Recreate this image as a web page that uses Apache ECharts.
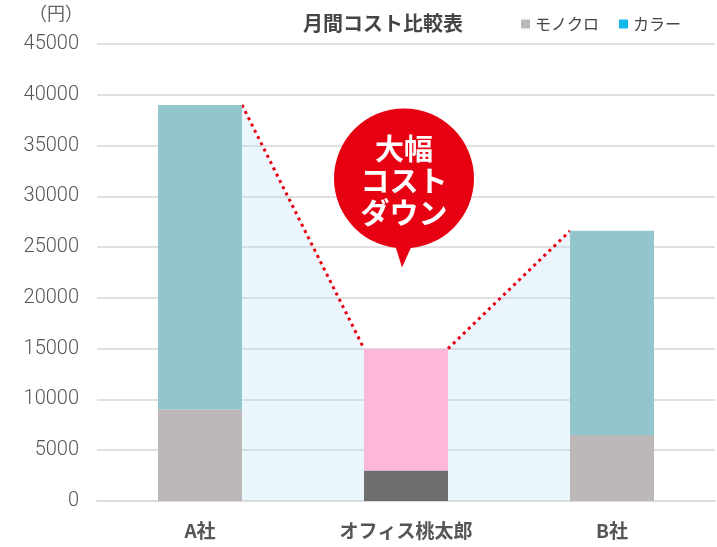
<!DOCTYPE html>
<html>
<head>
<meta charset="utf-8">
<script src="https://cdn.jsdelivr.net/npm/echarts@6/dist/echarts.min.js"></script>
<style>
  html, body { margin: 0; padding: 0; background: #fff; }
  #main { width: 717px; height: 547px; }
</style>
</head>
<body>
<div id="main"></div>
<script>
var categories = ["A社", "オフィス桃太郎", "B社"];
var monoValues = [9000, 3000, 6500];
var colorValues = [30000, 12000, 20100];
var monoColors = ["#BCB8B8", "#6E6E6E", "#BCB8B8"];
var colorColors = ["#93C6CC", "#FDB7D8", "#93C6CC"];
var bubbleLines = ["大幅", "コスト", "ダウン"];

var FONT = "'Noto Sans CJK JP', 'Noto Sans', sans-serif";
var NUM_FONT = "Roboto, 'Noto Sans', sans-serif";
var BAR_W = 84;

var totals = monoValues.map(function (v, i) { return v + colorValues[i]; });
var links = [];
for (var i = 0; i < totals.length - 1; i++) {
  links.push([i, totals[i], i + 1, totals[i + 1]]);
}

var chartDom = document.getElementById("main");
var myChart = echarts.init(chartDom);
var option;

option = {
  animation: false,
  textStyle: { fontFamily: FONT },
  title: {
    text: "月間コスト比較表",
    left: 298,
    top: 8,
    textStyle: { fontSize: 20, fontWeight: "bold", color: "#444", fontFamily: FONT },
  },
  legend: {
    left: 516,
    top: 11,
    icon: "rect",
    itemWidth: 9,
    itemHeight: 9,
    itemGap: 20,
    textStyle: { fontSize: 16, color: "#444", fontFamily: FONT },
    data: [
      { name: "モノクロ", itemStyle: { color: "#BCB8B8" } },
      { name: "カラー", itemStyle: { color: "#12B8EA" } },
    ],
  },
  grid: { left: 97, right: 2, top: 44, bottom: 46 },
  xAxis: {
    type: "category",
    data: categories,
    axisLine: { lineStyle: { color: "#DDDDDD", width: 2 } },
    axisTick: { show: false },
    axisLabel: { fontSize: 19, fontWeight: "bold", color: "#555", margin: 20, fontFamily: FONT },
  },
  yAxis: {
    type: "value",
    min: 0,
    max: 45000,
    interval: 5000,
    name: "（円）",
    nameLocation: "end",
    nameGap: 22,
    nameTextStyle: { fontSize: 18, color: "#666", align: "right", padding: [0, 14, 0, 0], fontFamily: FONT },
    axisLine: { show: false },
    axisTick: { show: false },
    axisLabel: {
      fontSize: 20,
      fontWeight: 300,
      color: "#555",
      margin: 18,
      fontFamily: NUM_FONT,
      formatter: function (v) { return String(v); },
    },
    splitLine: { lineStyle: { color: "#E0E0E0", width: 2 } },
  },
  series: [
    {
      name: "reduce",
      type: "custom",
      z: 1,
      silent: true,
      encode: { x: 0, y: 1 },
      data: links,
      renderItem: function (params, api) {
        var p1 = api.coord([api.value(0), api.value(1)]);
        var p2 = api.coord([api.value(2), api.value(3)]);
        var base = api.coord([0, 0])[1];
        var x1 = p1[0] + BAR_W / 2;
        var x2 = p2[0] - BAR_W / 2;
        return {
          type: "group",
          children: [
            {
              type: "polygon",
              shape: { points: [[x1, p1[1]], [x2, p2[1]], [x2, base], [x1, base]] },
              style: { fill: "rgba(180,220,245,0.28)" },
            },
            {
              type: "polygon",
              shape: { points: [[p2[0] - BAR_W / 2, p2[1]], [p2[0] + BAR_W / 2, p2[1]], [p2[0] + BAR_W / 2, base], [p2[0] - BAR_W / 2, base]] },
              style: { fill: params.dataIndex === 0 ? "rgba(180,220,245,0.28)" : "rgba(0,0,0,0)" },
            },
            {
              type: "line",
              shape: { x1: x1, y1: p1[1], x2: x2, y2: p2[1] },
              style: { stroke: "#E60012", lineWidth: 3, lineDash: [3, 4] },
            },
          ],
        };
      },
    },
    {
      name: "モノクロ",
      type: "bar",
      stack: "cost",
      barWidth: BAR_W,
      z: 3,
      data: monoValues.map(function (v, i) {
        return { value: v, itemStyle: { color: monoColors[i] } };
      }),
    },
    {
      name: "カラー",
      type: "bar",
      stack: "cost",
      barWidth: BAR_W,
      z: 3,
      data: colorValues.map(function (v, i) {
        return { value: v, itemStyle: { color: colorColors[i] } };
      }),
    },
  ],
};

option && myChart.setOption(option);

// 吹き出し（オフィス桃太郎の上）
var tip = myChart.convertToPixel({ seriesIndex: 1 }, [categories[1], 23000]);
var cx = tip[0] - 2;
var cy = tip[1] - 89;
myChart.setOption({
  graphic: [
    {
      type: "group",
      z: 100,
      children: [
        {
          type: "polygon",
          shape: { points: [[cx - 11, cy + 60], [cx + 11, cy + 60], [cx - 2, tip[1]]] },
          style: { fill: "#E60012" },
        },
        {
          type: "circle",
          shape: { cx: cx, cy: cy, r: 70 },
          style: { fill: "#E60012" },
        },
        {
          type: "text",
          x: cx,
          y: cy + 3,
          style: {
            text: bubbleLines.join("\n"),
            fill: "#fff",
            font: "bold 29px " + FONT,
            lineHeight: 32,
            align: "center",
            verticalAlign: "middle",
          },
        },
      ],
    },
  ],
});
</script>
</body>
</html>
